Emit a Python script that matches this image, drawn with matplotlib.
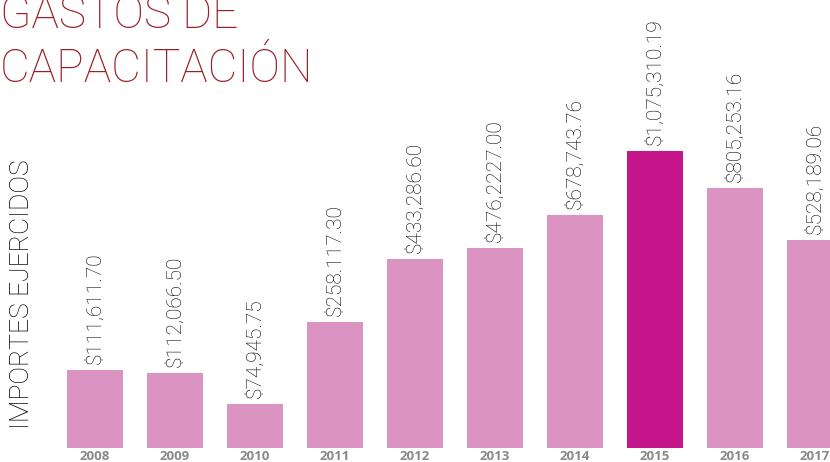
import matplotlib.pyplot as plt
from matplotlib import transforms

years = ['2008', '2009', '2010', '2011', '2012', '2013', '2014', '2015', '2016', '2017']
# bar heights as drawn (the original is not to scale with the amounts)
heights = [78, 75, 44, 126, 189, 200, 233, 297, 260, 208]
amounts = ['$111,611.70', '$112,066.50', '$74,945.75', '$258.117.30', '$433,286.60',
           '$476,2227.00', '$678,743.76', '$1,075,310.19', '$805,253.16', '$528,189.06']
highlight = '2015'

pink = '#DB93C1'
magenta = '#C5168C'
title_red = '#9A1F27'

fig = plt.figure(figsize=(8.3, 4.62), dpi=100)
ax = fig.add_axes([0, 14 / 462, 1, 448 / 462])

x = list(range(len(years)))
colors = [magenta if y == highlight else pink for y in years]
ax.bar(x, heights, width=0.71, color=colors)

ax.set_xlim(-1.1875, 9.1875)
ax.set_ylim(0, 448)
ax.axis('off')

for xi, h, txt in zip(x, heights, amounts):
    ax.text(xi, h + 6, txt, rotation=90, ha='center', va='bottom',
            fontsize=15, color='#000000', family='Roboto', fontweight='light')

trans = transforms.blended_transform_factory(ax.transData, fig.transFigure)
for xi, y in zip(x, years):
    ax.text(xi, 6 / 462, y, ha='center', va='center', transform=trans,
            fontsize=9.5, color='#888888', fontweight='bold', family='Open Sans')

fig.text(0.0, 1 - 28 / 462, 'GASTOS DE', ha='left', va='baseline',
         fontsize=33, color=title_red, family='Roboto', fontweight='light')
fig.text(0.0, 1 - 82 / 462, 'CAPACITACIÓN', ha='left', va='baseline',
         fontsize=33, color=title_red, family='Roboto', fontweight='light')

fig.text(22 / 830, 1 - 294 / 462, 'IMPORTES EJERCIDOS', rotation=90, ha='center', va='center',
         fontsize=19, color='#000000', family='Roboto', fontweight='light')

fig.savefig('out.png', dpi=100)
